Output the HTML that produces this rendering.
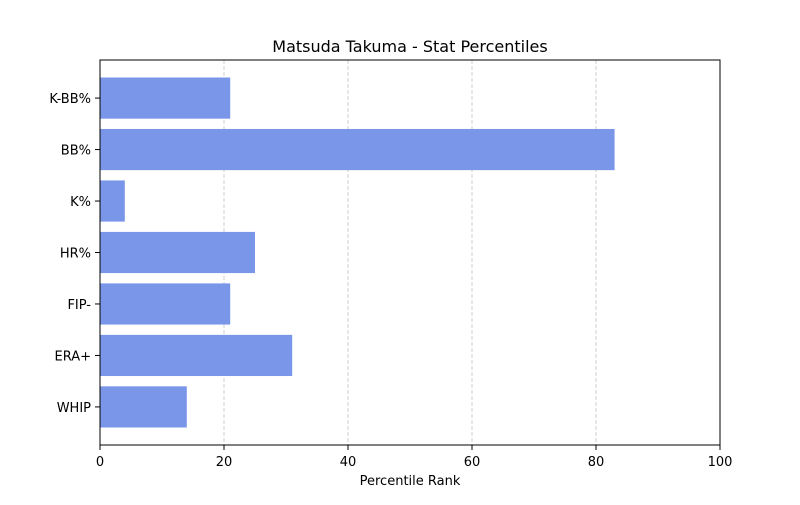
<!DOCTYPE html>
<html><head><meta charset="utf-8"><style>
body{margin:0;background:#fff;}
svg text{font-family:"DejaVu Sans","Liberation Sans",sans-serif;}
</style></head><body>
<svg id="chart" width="800" height="500" xmlns="http://www.w3.org/2000/svg">
<rect width="800" height="500" fill="#fff"/>
<text x="410" y="52" text-anchor="middle" font-size="16">Matsuda Takuma - Stat Percentiles</text>
<g id="grid"></g>
<g id="bars"></g>
<rect x="100" y="60" width="620" height="385" fill="none" stroke="#000" stroke-width="1"/>
<g id="xticks"></g>
<g id="yticks"></g>
<text x="410" y="485" text-anchor="middle" font-size="13">Percentile Rank</text>
</svg>
<script>
const categories = ["K-BB%","BB%","K%","HR%","FIP-","ERA+","WHIP"];
const values = [21,83,4,25,21,31,14];
const xTicks = [0,20,40,60,80,100];
const NS="http://www.w3.org/2000/svg";
const L=100,R=720,T=60,B=445;
const xs=v=>L+(v/100)*(R-L);
const n=categories.length;
const step=(B-T)/(n-1+0.8+2*0.05*(n-1+0.8)/1);
// matplotlib: range [-0.4, n-1+0.4] with 5% margins
const span=(n-1)+0.8, lo=-0.4-span*0.05, hi=n-1+0.4+span*0.05;
const ys=i=>T+(i-lo)/(hi-lo)*(B-T);
const bh=0.8*(B-T)/(hi-lo);
function mk(tag,attrs,parent){const e=document.createElementNS(NS,tag);for(const k in attrs)e.setAttribute(k,attrs[k]);document.getElementById(parent).appendChild(e);return e;}
xTicks.forEach(t=>{
  const x=xs(t);
  if(t>0&&t<100){const g=mk("line",{x1:x,x2:x,y1:T,y2:B,stroke:"#c4c4c4","stroke-dasharray":"4,2","stroke-width":0.8},"grid");
  
  }
  const tk=mk("line",{x1:x,x2:x,y1:B,y2:B+5,stroke:"#000"},"xticks");
  
  
  const lb=mk("text",{x:x,y:B+21,"text-anchor":"middle","font-size":13},"xticks");
  lb.textContent=t;
  
  
});
categories.forEach((c,i)=>{
  const y=ys(i);
  const b=mk("rect",{x:L,y:y-bh/2,width:xs(values[i])-L,height:bh,fill:"#7a96e9"},"bars");
  
  
  const tk=mk("line",{x1:L-5,x2:L,y1:y,y2:y,stroke:"#000"},"yticks");
  
  
  const lb=mk("text",{x:L-9,y:y+5,"text-anchor":"end","font-size":13},"yticks");
  lb.textContent=c;
  
  
});
</script>
</body></html>
